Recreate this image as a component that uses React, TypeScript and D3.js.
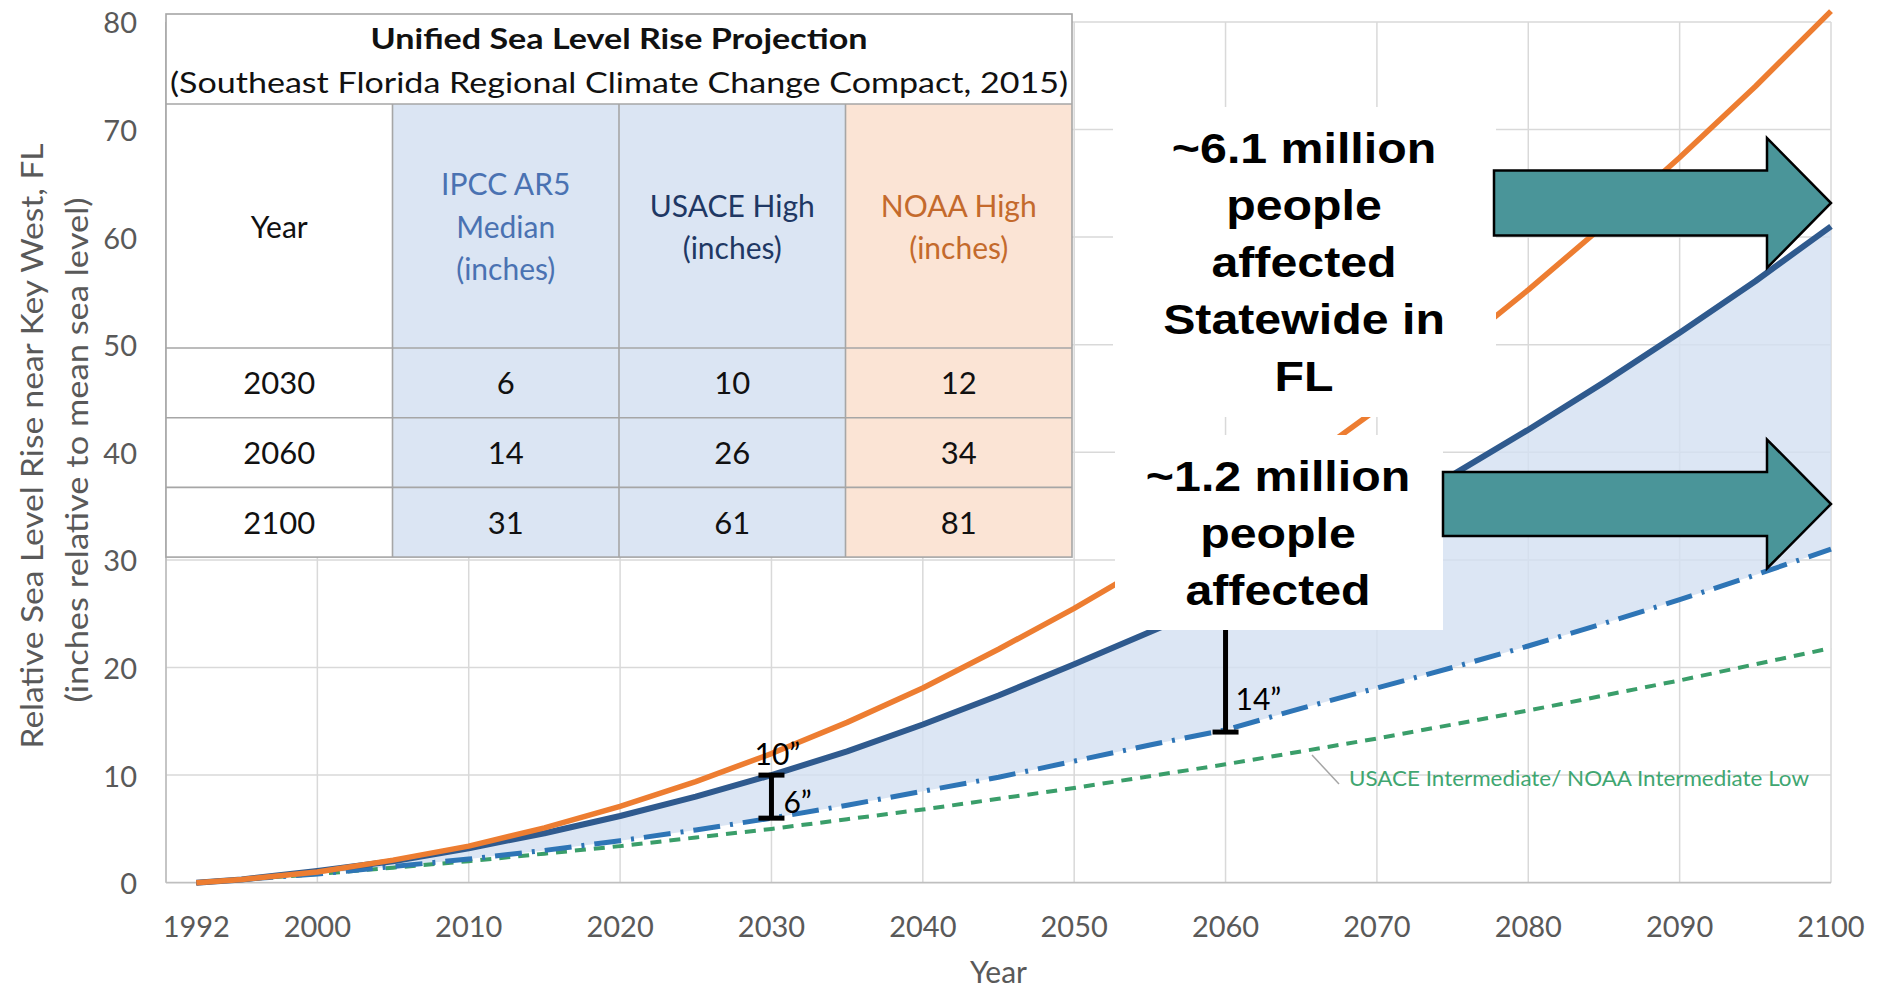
import React from 'react';
import * as d3 from 'd3';

// Projection years (every 5 years from the 1992 baseline)
const years = [1992, 1995, 2000, 2005, 2010, 2015, 2020, 2025, 2030, 2035, 2040, 2045, 2050, 2055, 2060, 2065, 2070, 2075, 2080, 2085, 2090, 2095, 2100];

// Relative sea level rise, inches
const noaaHigh = [0, 0.3, 1.0, 2.1, 3.4, 5.1, 7.1, 9.4, 12.0, 14.9, 18.1, 21.7, 25.5, 29.6, 34.0, 38.9, 44.0, 49.4, 55.1, 61.1, 67.4, 74.0, 81.0];
const usaceHigh = [0, 0.3, 1.1, 2.0, 3.2, 4.6, 6.2, 8.0, 10.0, 12.2, 14.7, 17.4, 20.3, 23.3, 26.3, 30.1, 34.0, 37.9, 42.1, 46.5, 51.1, 55.9, 61.0];
const ipccMedian = [0, 0.3, 0.8, 1.5, 2.2, 3.0, 3.9, 4.9, 6.0, 7.2, 8.5, 9.8, 11.3, 12.8, 14.2, 16.2, 18.1, 20.0, 22.0, 24.1, 26.3, 28.6, 31.0];
const usaceIntermediate = [0, 0.3, 0.8, 1.4, 2.0, 2.7, 3.4, 4.2, 5.0, 5.9, 6.8, 7.8, 8.8, 9.9, 11.0, 12.2, 13.4, 14.7, 16.0, 17.4, 18.8, 20.3, 21.8];

// Axis ticks
const xTickYears = [1992, 2000, 2010, 2020, 2030, 2040, 2050, 2060, 2070, 2080, 2090, 2100];
const gridYears = [2000, 2010, 2020, 2030, 2040, 2050, 2060, 2070, 2080, 2090, 2100];
const yTicks = [0, 10, 20, 30, 40, 50, 60, 70, 80];

// Summary table
const tableYears = [2030, 2060, 2100];
const tableIpcc = [6, 14, 31];
const tableUsace = [10, 26, 61];
const tableNoaa = [12, 34, 81];

// Callout text
const statewideLines = ['~6.1 million', 'people', 'affected', 'Statewide in', 'FL'];
const localLines = ['~1.2 million', 'people', 'affected'];

const W = 1883;
const H = 989;
const AXIS_FONT = 'Lato, "Open Sans", sans-serif';
const CALLOUT_FONT = '"Liberation Sans", Arial, sans-serif';
const GREY = '#595959';

const x = d3.scaleLinear().domain([1990, 2100]).range([166, 1831]);
const y = d3.scaleLinear().domain([0, 80]).range([882.7, 21.9]);

const linePath = (vals: number[]) =>
  d3.line<number>().x((_, i) => x(years[i])).y((d) => y(d))(vals) || '';

const bandPath =
  d3
    .area<number>()
    .x((i) => x(years[i]))
    .y0((i) => y(ipccMedian[i]))
    .y1((i) => y(usaceHigh[i]))(years.map((_, i) => i)) || '';

function Table() {
  const left = 166;
  const top = 14;
  const colW = 226.5;
  const right = left + colW * 4;
  const titleBottom = 104;
  const headBottom = 348;
  const rowH = 69.7;
  const bottom = headBottom + rowH * 3;
  const cx = (c: number) => left + colW * c + colW / 2;
  const border = '#a6a6a6';
  const fills = ['#ffffff', '#dbe5f3', '#dbe5f3', '#fbe4d5'];
  const cols = [tableIpcc, tableUsace, tableNoaa];
  return (
    <g fontFamily={AXIS_FONT}>
      <rect x={left} y={top} width={right - left} height={bottom - top} fill="#fff" />
      {fills.map((f, c) => (
        <rect key={c} x={left + colW * c} y={titleBottom} width={colW} height={bottom - titleBottom} fill={f} />
      ))}
      <text x={(left + right) / 2} y={49} textAnchor="middle" fontSize={29} fontWeight={700} fill="#111" textLength={497} lengthAdjust="spacingAndGlyphs">
        Unified Sea Level Rise Projection
      </text>
      <text x={(left + right) / 2} y={93} textAnchor="middle" fontSize={29} fill="#111" textLength={898} lengthAdjust="spacingAndGlyphs">
        (Southeast Florida Regional Climate Change Compact, 2015)
      </text>
      {/* header row */}
      <text x={cx(0)} y={238} textAnchor="middle" fontSize={30} fill="#111">Year</text>
      <g fontSize={30} fill="#4a72b2" textAnchor="middle">
        <text x={cx(1)} y={195}>IPCC AR5</text>
        <text x={cx(1)} y={238}>Median</text>
        <text x={cx(1)} y={280}>(inches)</text>
      </g>
      <g fontSize={30} fill="#1f3864" textAnchor="middle">
        <text x={cx(2)} y={217}>USACE High</text>
        <text x={cx(2)} y={259}>(inches)</text>
      </g>
      <g fontSize={30} fill="#c46a2c" textAnchor="middle">
        <text x={cx(3)} y={217}>NOAA High</text>
        <text x={cx(3)} y={259}>(inches)</text>
      </g>
      {/* data rows */}
      {tableYears.map((yr, r) => {
        const base = headBottom + rowH * r + rowH / 2 + 11.5;
        return (
          <g key={yr} fontSize={31} fill="#111" textAnchor="middle">
            <text x={cx(0)} y={base}>{yr}</text>
            {cols.map((col, c) => (
              <text key={c} x={cx(c + 1)} y={base}>{col[r]}</text>
            ))}
          </g>
        );
      })}
      {/* rules */}
      <g stroke={border} strokeWidth={1.6} fill="none">
        <rect x={left} y={top} width={right - left} height={bottom - top} />
        <line x1={left} x2={right} y1={titleBottom} y2={titleBottom} />
        <line x1={left} x2={right} y1={headBottom} y2={headBottom} />
        <line x1={left} x2={right} y1={headBottom + rowH} y2={headBottom + rowH} />
        <line x1={left} x2={right} y1={headBottom + rowH * 2} y2={headBottom + rowH * 2} />
        {[1, 2, 3].map((c) => (
          <line key={c} x1={left + colW * c} x2={left + colW * c} y1={titleBottom} y2={bottom} />
        ))}
      </g>
    </g>
  );
}

function Callout({ lines, cx, firstBaseline }: { lines: string[]; cx: number; firstBaseline: number }) {
  return (
    <g fontFamily={CALLOUT_FONT} fontWeight={700} fontSize={42} fill="#000" textAnchor="middle">
      {lines.map((t, i) => (
        <text key={i} transform={`translate(${cx},${firstBaseline + i * 57}) scale(1.15,1)`}>
          {t}
        </text>
      ))}
    </g>
  );
}

function BlockArrow({ x0, tipX, midY, shaftH, headH, headLen }: { x0: number; tipX: number; midY: number; shaftH: number; headH: number; headLen: number }) {
  const hx = tipX - headLen;
  const pts = [
    [x0, midY - shaftH / 2],
    [hx, midY - shaftH / 2],
    [hx, midY - headH / 2],
    [tipX, midY],
    [hx, midY + headH / 2],
    [hx, midY + shaftH / 2],
    [x0, midY + shaftH / 2],
  ]
    .map((p) => p.join(','))
    .join(' ');
  return <polygon points={pts} fill="#4a9599" stroke="#000" strokeWidth={2.5} strokeLinejoin="miter" />;
}

function Bracket({ year, lo, hi, capTop = true }: { year: number; lo: number; hi: number; capTop?: boolean }) {
  const px = x(year);
  return (
    <g stroke="#000" strokeWidth={5}>
      <line x1={px} x2={px} y1={y(lo)} y2={y(hi)} />
      <line x1={px - 13} x2={px + 13} y1={y(lo)} y2={y(lo)} />
      {capTop && <line x1={px - 13} x2={px + 13} y1={y(hi)} y2={y(hi)} />}
    </g>
  );
}

export default function App() {
  const i2030 = tableYears.indexOf(2030);
  const i2060 = tableYears.indexOf(2060);
  return (
    <svg width={W} height={H} viewBox={`0 0 ${W} ${H}`} style={{ position: 'absolute', left: 0, top: 0, background: '#fff' }}>
      {/* gridlines */}
      <g stroke="#d9d9d9" strokeWidth={1.5}>
        {yTicks.slice(1).map((v) => (
          <line key={v} x1={x(1990)} x2={x(2100)} y1={y(v)} y2={y(v)} />
        ))}
        {gridYears.map((yr) => (
          <line key={yr} x1={x(yr)} x2={x(yr)} y1={y(0)} y2={y(80)} />
        ))}
      </g>

      {/* band between IPCC median and USACE high */}
      <path d={bandPath} fill="#d3e0f1" fillOpacity={0.8} />

      {/* axes */}
      <g stroke="#bfbfbf" strokeWidth={1.8}>
        <line x1={x(1990)} x2={x(2100)} y1={y(0)} y2={y(0)} />
        <line x1={x(1990)} x2={x(1990)} y1={y(0)} y2={y(80)} />
      </g>

      {/* projection curves */}
      <path d={linePath(usaceIntermediate)} fill="none" stroke="#3a9e6a" strokeWidth={4} strokeDasharray="11 8" />
      <path d={linePath(ipccMedian)} fill="none" stroke="#2e75b6" strokeWidth={5} strokeDasharray="27 10 3 10" />
      <path d={linePath(usaceHigh)} fill="none" stroke="#2f5a8e" strokeWidth={6} strokeLinejoin="round" />
      <path d={linePath(noaaHigh)} fill="none" stroke="#ed7d31" strokeWidth={5.5} strokeLinejoin="round" />

      {/* tick labels */}
      <g fontFamily={AXIS_FONT} fontSize={29} fill={GREY}>
        {yTicks.map((v) => (
          <text key={v} x={137} y={y(v)} textAnchor="end" dominantBaseline="central">
            {v}
          </text>
        ))}
        {xTickYears.map((yr) => (
          <text key={yr} x={x(yr)} y={937} textAnchor="middle">
            {yr}
          </text>
        ))}
      </g>

      {/* axis titles */}
      <g fontFamily={AXIS_FONT} fontSize={30} fill={GREY} textAnchor="middle">
        <text transform="translate(43,446) rotate(-90)" textLength={605} lengthAdjust="spacingAndGlyphs">
          Relative Sea Level Rise near Key West, FL
        </text>
        <text transform="translate(88,450) rotate(-90)" textLength={505} lengthAdjust="spacingAndGlyphs">
          (inches relative to mean sea level)
        </text>
        <text x={(x(1990) + x(2100)) / 2} y={983}>Year</text>
      </g>

      {/* series label for the intermediate curve */}
      <line x1={1312} y1={755} x2={1339} y2={784} stroke="#a6a6a6" strokeWidth={1.5} />
      <text x={1349} y={786} fontFamily={AXIS_FONT} fontSize={22} fill="#3fa671" textLength={460} lengthAdjust="spacingAndGlyphs">
        USACE Intermediate/ NOAA Intermediate Low
      </text>

      {/* 2030 spread between IPCC median and USACE high */}
      <Bracket year={2030} lo={tableIpcc[i2030]} hi={tableUsace[i2030]} />
      <g fontFamily={AXIS_FONT} fontSize={30} fill="#000">
        <text x={x(2030) + 6} y={765} textAnchor="middle">{`${tableUsace[i2030]}\u201D`}</text>
        <text x={x(2030) + 12} y={813}>{`${tableIpcc[i2030]}\u201D`}</text>
      </g>

      {/* 2060 spread */}
      <Bracket year={2060} lo={tableIpcc[i2060]} hi={tableUsace[i2060]} capTop={false} />
      <text x={x(2060) + 10} y={710} fontFamily={AXIS_FONT} fontSize={30} fill="#000">{`${tableIpcc[i2060]}\u201D`}</text>

      <Table />

      {/* callouts */}
      <rect x={1113} y={107} width={383} height={310} fill="#fff" />
      <rect x={1115} y={435} width={328} height={195} fill="#fff" />
      <Callout lines={statewideLines} cx={1304} firstBaseline={163} />
      <Callout lines={localLines} cx={1278} firstBaseline={491} />

      <BlockArrow x0={1494} tipX={x(2100)} midY={203} shaftH={65} headH={130} headLen={64} />
      <BlockArrow x0={1443} tipX={x(2100)} midY={504} shaftH={64} headH={129} headLen={64} />
    </svg>
  );
}
